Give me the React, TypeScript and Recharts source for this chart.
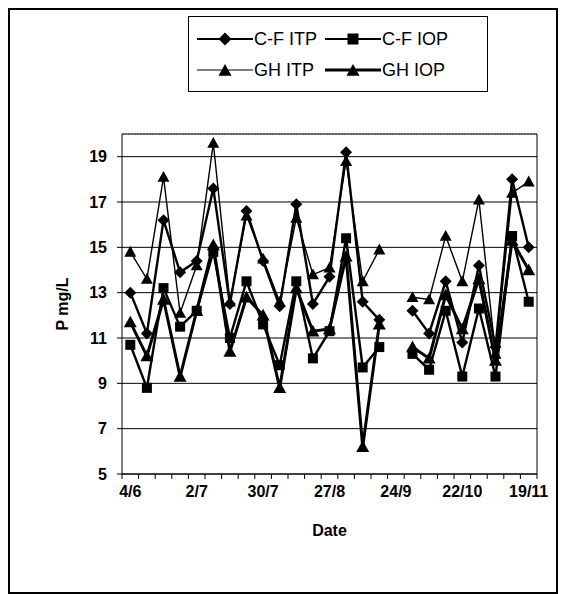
import React from 'react';
import { LineChart, Line, XAxis, YAxis, CartesianGrid, ReferenceLine } from 'recharts';

const dates = ['4/6','11/6','18/6','25/6','2/7','9/7','16/7','23/7','30/7','6/8','13/8','20/8','27/8','3/9','10/9','17/9','24/9','1/10','8/10','15/10','22/10','29/10','5/11','12/11','19/11'];
const tickLabels = ['4/6','2/7','30/7','27/8','24/9','22/10','19/11'];
const yTicks = [5, 7, 9, 11, 13, 15, 17, 19];

const cfItp = [13.0, 11.2, 16.2, 13.9, 14.4, 17.6, 12.5, 16.6, 14.4, 12.4, 16.9, 12.5, 13.7, 19.2, 12.6, 11.8, null, 12.2, 11.2, 13.5, 10.8, 14.2, 10.6, 18.0, 15.0];
const cfIop = [10.7, 8.8, 13.2, 11.5, 12.2, 14.8, 11.0, 13.5, 11.6, 9.8, 13.5, 10.1, 11.3, 15.4, 9.7, 10.6, null, 10.3, 9.6, 12.2, 9.3, 12.3, 9.3, 15.5, 12.6];
const ghItp = [14.8, 13.6, 18.1, 12.1, 14.2, 19.6, 12.6, 16.4, 14.5, 12.6, 16.3, 13.8, 14.1, 18.8, 13.5, 14.9, null, 12.8, 12.7, 15.5, 13.5, 17.1, 10.3, 17.4, 17.9];
const ghIop = [11.7, 10.2, 12.7, 9.3, 12.2, 15.1, 10.4, 12.8, 12.0, 8.8, 13.2, 11.3, 11.4, 14.6, 6.2, 11.6, null, 10.6, 10.1, 12.9, 11.4, 13.6, 10.0, 15.3, 14.0];

const FONT = '"Liberation Sans", Arial, Helvetica, sans-serif';

const rows = dates.map((d, i) => ({ x: i, date: d, cfItp: cfItp[i], cfIop: cfIop[i], ghItp: ghItp[i], ghIop: ghIop[i] }));

const boundaryTicks = dates.map((_, i) => i - 0.5).concat([dates.length - 0.5]);
const labelTicks = tickLabels.map((l) => dates.indexOf(l));
const xTicks = [...boundaryTicks, ...labelTicks].sort((a, b) => a - b);

const Diamond = ({ cx, cy, r = 6 }: any) => (
  <path d={`M${cx},${cy - r}L${cx + r},${cy}L${cx},${cy + r}L${cx - r},${cy}Z`} fill="#000" />
);
const Square = ({ cx, cy, r = 5 }: any) => (
  <rect x={cx - r} y={cy - r} width={2 * r} height={2 * r} fill="#000" />
);
const Triangle = ({ cx, cy, r = 6 }: any) => (
  <path d={`M${cx},${cy - r}L${cx + r},${cy + r * 0.8}L${cx - r},${cy + r * 0.8}Z`} fill="#000" />
);

const makeDot = (Shape: any, r: number) => (props: any) => {
  const { cx, cy, index } = props;
  if (cx == null || cy == null || props.value == null || props.payload == null) return <g key={`e${index}`} />;
  const v = Array.isArray(props.value) ? props.value[1] : props.value;
  if (v == null) return <g key={`e${index}`} />;
  return <Shape key={`d${index}`} cx={cx} cy={cy} r={r} />;
};

const XTick = (props: any) => {
  const { x, y, payload } = props;
  const v = payload.value;
  if (Math.abs(v - Math.round(v)) > 0.1) {
    return <line x1={x} x2={x} y1={y} y2={y + 5} stroke="#000" strokeWidth={1} />;
  }
  return (
    <text x={x} y={y + 23} textAnchor="middle" fontFamily={FONT} fontWeight="bold" fontSize={16} fill="#000">
      {dates[Math.round(v)]}
    </text>
  );
};

const LegendIcon = ({ shape, width }: { shape: string; width: number }) => (
  <svg width={56} height={16} style={{ display: 'block' }}>
    <line x1={0} x2={56} y1={8} y2={8} stroke="#000" strokeWidth={width} />
    {shape === 'diamond' && <Diamond cx={28} cy={8} r={6.5} />}
    {shape === 'square' && <Square cx={28} cy={8} r={5.5} />}
    {shape === 'triangle' && <Triangle cx={28} cy={8.5} r={6.5} />}
  </svg>
);

const legendItems = [
  { name: 'C-F ITP', shape: 'diamond', width: 2 },
  { name: 'C-F IOP', shape: 'square', width: 2 },
  { name: 'GH ITP', shape: 'triangle', width: 1.2 },
  { name: 'GH IOP', shape: 'triangle', width: 3 },
];

export default function App() {
  return (
    <div style={{ position: 'relative', width: 550, height: 586 }}>
      <div style={{ position: 'absolute', left: 0, top: 0, width: 550, height: 586, border: '2px solid #000', boxSizing: 'border-box' }} />
      <LineChart width={550} height={586} data={rows} margin={{ top: 126, right: 21, bottom: 60, left: 0 }} style={{ position: 'absolute', left: 0, top: 0 }}>
        <CartesianGrid horizontal={true} vertical={false} stroke="#000" strokeWidth={1} />
        <XAxis
          dataKey="x"
          type="number"
          domain={[-0.5, dates.length - 0.5]}
          ticks={xTicks}
          interval={0}
          tick={<XTick />}
          tickLine={false}
          tickSize={0}
          tickMargin={0}
          axisLine={{ stroke: '#000', strokeWidth: 1 }}
          height={60}
          label={{
            content: (p: any) => {
              const vb = p.viewBox;
              return (
                <text x={vb.x + vb.width / 2} y={vb.y + 62} textAnchor="middle" fontFamily={FONT} fontWeight="bold" fontSize={16} fill="#000">
                  Date
                </text>
              );
            },
          }}
        />
        <YAxis
          type="number"
          domain={[5, 20]}
          ticks={yTicks}
          interval={0}
          width={114}
          tickSize={5}
          tickMargin={10}
          tick={{ fill: '#000', fontFamily: FONT, fontWeight: 'bold', fontSize: 16 }}
          tickLine={{ stroke: '#000' }}
          axisLine={{ stroke: '#000', strokeWidth: 1 }}
          label={{
            content: (p: any) => {
              const vb = p.viewBox;
              const cx = 54;
              const cy = vb.y + vb.height / 2;
              return (
                <text x={cx} y={cy} transform={`rotate(-90 ${cx} ${cy})`} textAnchor="middle" dominantBaseline="central" fontFamily={FONT} fontWeight="bold" fontSize={16} fill="#000">
                  P mg/L
                </text>
              );
            },
          }}
        />
        <ReferenceLine y={20} stroke="#444" strokeWidth={1} strokeDasharray="2 1" />
        <ReferenceLine x={dates.length - 0.5} stroke="#000" strokeWidth={1} />
        <Line type="linear" dataKey="ghItp" stroke="#000" strokeWidth={1.4} dot={makeDot(Triangle, 6)} activeDot={false} isAnimationActive={false} connectNulls={false} />
        <Line type="linear" dataKey="ghIop" stroke="#000" strokeWidth={3} dot={makeDot(Triangle, 6.5)} activeDot={false} isAnimationActive={false} connectNulls={false} />
        <Line type="linear" dataKey="cfIop" stroke="#000" strokeWidth={2.4} dot={makeDot(Square, 5)} activeDot={false} isAnimationActive={false} connectNulls={false} />
        <Line type="linear" dataKey="cfItp" stroke="#000" strokeWidth={2.4} dot={makeDot(Diamond, 6)} activeDot={false} isAnimationActive={false} connectNulls={false} />
      </LineChart>
      <div
        style={{
          position: 'absolute',
          left: 180,
          top: 8,
          width: 300,
          height: 76,
          border: '1px solid #000',
          boxSizing: 'border-box',
          background: '#fff',
          fontFamily: FONT,
          fontSize: 18,
          color: '#000',
          display: 'grid',
          gridTemplateColumns: '128px 150px',
          gridTemplateRows: '31px 31px',
          padding: '6px 0 0 8px',
        }}
      >
        {legendItems.map((it) => (
          <div key={it.name} style={{ display: 'flex', alignItems: 'center', whiteSpace: 'nowrap', lineHeight: '18px' }}>
            <LegendIcon shape={it.shape} width={it.width} />
            <span style={{ marginLeft: 1 }}>{it.name}</span>
          </div>
        ))}
      </div>
    </div>
  );
}
